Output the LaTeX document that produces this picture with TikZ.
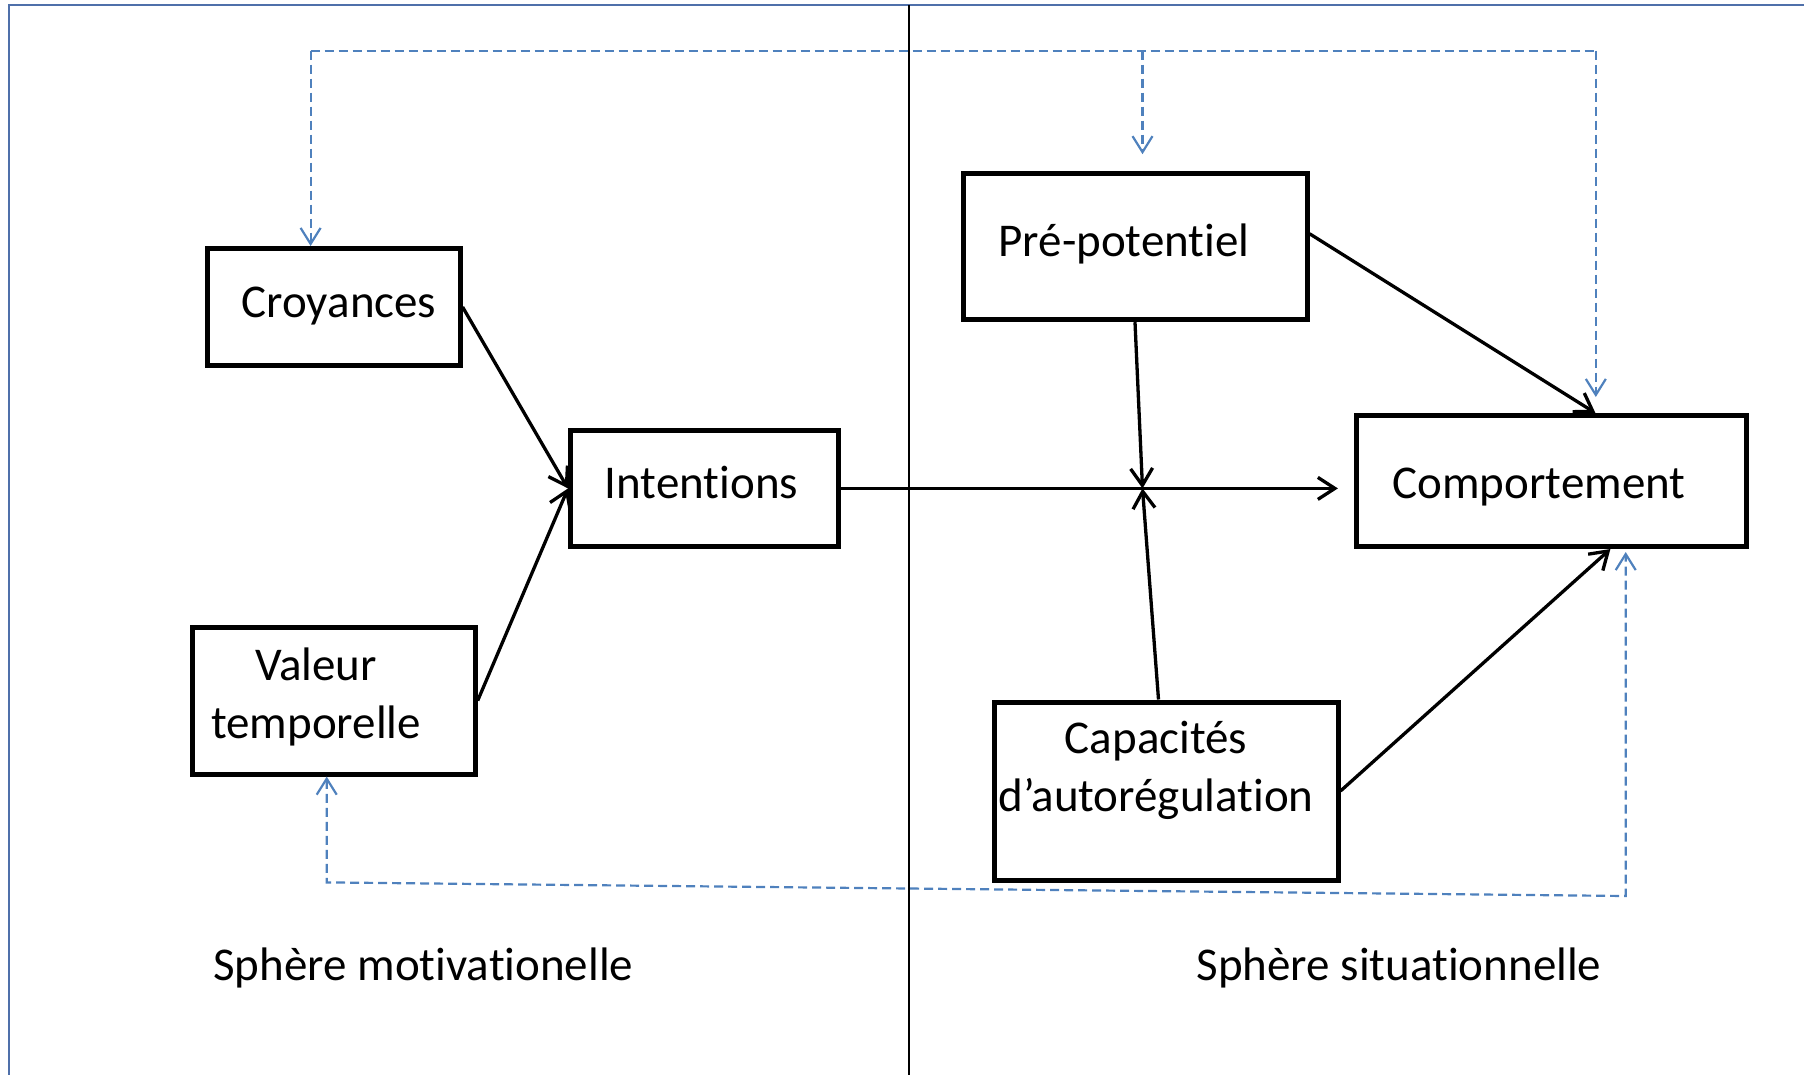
\documentclass[tikz,border=0pt]{standalone}
\usepackage{fontspec}
\setmainfont{Carlito}[Ligatures={NoCommon,NoContextual}]
\usetikzlibrary{arrows.meta}
\definecolor{frameblue}{RGB}{79,112,170}
\definecolor{linkblue}{RGB}{79,129,189}
\begin{document}
\begin{tikzpicture}[x=1pt,y=-1pt,
  box/.style={draw=black, line width=5pt, rectangle, inner sep=0pt},
  txt/.style={font=\fontsize{47}{58}\selectfont, inner sep=0pt, anchor=base, align=center},
  arr/.style={draw=black, line width=3.3pt, -{Straight Barb[length=17pt,width=22pt,line width=3.3pt]}},
  fb/.style={draw=linkblue, line width=2.2pt, dash pattern=on 9pt off 5pt},
  fbtip/.style={-{Straight Barb[length=16pt,width=20pt,line width=2.2pt]}}]
\useasboundingbox (0,0) rectangle (1804,1074);

% outer frame and the dividing line between the two spheres
\draw[frameblue, line width=2pt] (9,1080) -- (9,5) -- (1810,5);
\draw[black, line width=1.6pt] (909,5) -- (909,1080);

% boxes
\node[box, minimum width=253pt, minimum height=117pt] (croy) at (333.6,307) {};
\node[box, minimum width=283pt, minimum height=147pt] (valeur) at (333.7,700.6) {};
\node[box, minimum width=268pt, minimum height=116pt] (intent) at (704.5,488.4) {};
\node[box, minimum width=344pt, minimum height=146pt] (prepot) at (1135,246.7) {};
\node[box, minimum width=390pt, minimum height=131pt] (comport) at (1551.4,481) {};
\node[box, minimum width=344pt, minimum height=178pt] (capac) at (1166,791) {};

% box texts (base anchor sits on the last line)
\node[txt] (croyT) at (339,317) {Croyances};
\node[txt] (valeurT) at (316,738) {Valeur\\temporelle};
\node[txt] (intentT) at (701.5,498) {Intentions};
\node[txt] (prepotT) at (1124,256) {Pré-potentiel};
\node[txt] (comportT) at (1539,498.5) {Comportement};
\node[txt] (capacT) at (1156,811.7) {Capacités\\d’autorégulation};

% sphere labels
\node[txt] (motiv) at (423.4,980) {Sphère motivationelle};
\node[txt] (situ) at (1399,980) {Sphère situationnelle};

% solid connectors
\coordinate (jn) at (1142.5,488.4);
\draw[arr] (croy.east) -- (intent.west);
\draw[arr] (valeur.east) -- (intent.west);
\draw[arr, shorten >=16pt] (intent.east) -- (intent.east -| comport.west);
\draw[arr] (prepot.south) -- (jn);
\draw[arr] ([xshift=-7.5pt]capac.north) -- (jn);
\draw[arr] ([yshift=13pt]prepot.east) -- ([xshift=44pt]comport.north);
\draw[arr] (capac.east) -- ([xshift=59pt]comport.south);

% dashed feedback loops
\coordinate (tl) at (310.6,50.6);
\coordinate (tm) at (1142.5,50.6);
\coordinate (tr) at (1595.8,50.6);
\coordinate (bl) at (326.7,882.4);
\coordinate (br) at (1625.7,896);
\draw[fb] (tl) -- (tr);
\draw[fb, fbtip] (tl) -- (tl |- croy.north);
\draw[fb, fbtip] (tm) -- ([yshift=17pt]tm |- prepot.north);
\draw[fb, fbtip] (tr) -- ([yshift=16pt]tr |- comport.north);
\draw[fb, {Straight Barb[length=16pt,width=20pt,line width=2.2pt]}-{Straight Barb[length=16pt,width=20pt,line width=2.2pt]}]
  (bl |- valeur.south) -- (bl) -- (br) -- ([yshift=-3pt]br |- comport.south);
\end{tikzpicture}
\end{document}
